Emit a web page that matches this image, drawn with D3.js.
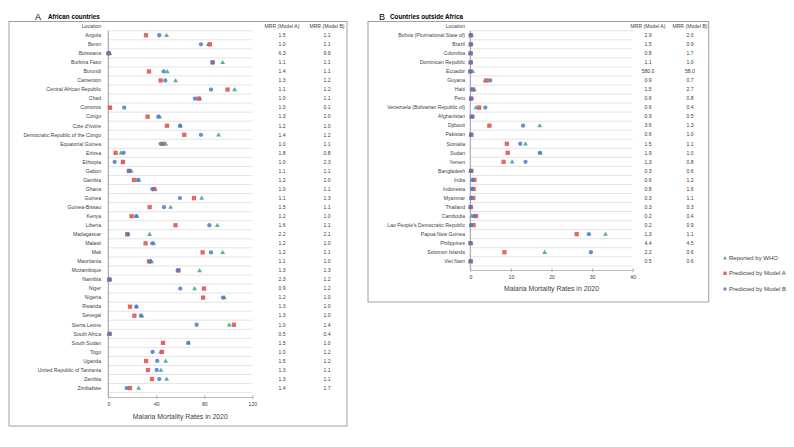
<!DOCTYPE html>
<html>
<head>
<meta charset="utf-8">
<script src="https://cdn.jsdelivr.net/npm/d3@7/dist/d3.min.js"></script>
<style>
  html, body { margin: 0; padding: 0; background: #fff; }
  svg { display: block; font-family: "Liberation Sans", Arial, sans-serif; }
</style>
</head>
<body>
<svg id="chart" width="794" height="447"></svg>
<script>
// ---------- Data: African countries ----------
const africaCountries = ["Angola","Benin","Botswana","Burkina Faso","Burundi","Cameroon","Central African Republic","Chad","Comoros","Congo","Cote d'Ivoire","Democratic Republic of the Congo","Equatorial Guinea","Eritrea","Ethiopia","Gabon","Gambia","Ghana","Guinea","Guinea-Bissau","Kenya","Liberia","Madagascar","Malawi","Mali","Mauritania","Mozambique","Namibia","Niger","Nigeria","Rwanda","Senegal","Sierra Leone","South Africa","South Sudan","Togo","Uganda","United Republic of Tanzania","Zambia","Zimbabwe"];
const africaWHO    = [48.6,83.3,1.3,95.3,49.2,56.1,105.3,76.4,1.4,42.8,60.3,91.9,47.8,10.6,12.2,19.2,25.6,39.2,77.8,51.9,23.6,90.8,34.4,37.8,95.3,36.1,76.1,1.5,71.9,96.7,23.6,28.1,100.8,0.5,66.7,43.6,47.8,43.9,48.6,25.3];
const africaModelA = [31.4,84.7,0.2,86.9,33.9,43.6,99.4,75.3,1.4,32.8,48.9,63.3,45.6,6.1,12.2,17.2,21.4,38.1,71.4,34.5,19.4,56.0,15.8,31.1,78.6,33.9,58.6,0.65,79.7,79.0,18.1,21.7,104.7,1.0,45.6,44.7,31.5,33.0,36.4,18.1];
const africaModelB = [42.5,77.2,0.13,86.9,46.1,47.5,85.6,72.2,13.3,41.7,59.7,77.2,43.6,12.8,5.3,17.3,24.8,36.7,59.7,46.4,23.3,84.2,16.4,36.6,85.6,35.0,57.8,1.25,60.0,95.6,23.3,27.2,73.6,1.25,66.7,36.9,40.8,40.3,42.5,15.3];
const africaMRRA   = ["1.5","1.0","6.3","1.1","1.4","1.3","1.1","1.0","1.0","1.3","1.2","1.4","1.0","1.8","1.0","1.1","1.2","1.0","1.1","1.5","1.2","1.6","2.2","1.2","1.2","1.1","1.3","2.3","0.9","1.2","1.3","1.3","1.0","0.5","1.5","1.0","1.5","1.3","1.3","1.4"];
const africaMRRB   = ["1.1","1.1","9.9","1.1","1.1","1.2","1.2","1.1","0.1","1.0","1.0","1.2","1.1","0.8","2.3","1.1","1.0","1.1","1.3","1.1","1.0","1.1","2.1","1.0","1.1","1.0","1.3","1.2","1.2","1.0","1.0","1.0","1.4","0.4","1.0","1.2","1.2","1.1","1.1","1.7"];
const africaTicks  = [0,40,80,120];

// ---------- Data: Countries outside Africa ----------
const otherCountries = ["Bolivia (Plurinational State of)","Brazil","Colombia","Dominican Republic","Ecuador","Guyana","Haiti","Peru","Venezuela (Bolivarian Republic of)","Afghanistan","Djibouti","Pakistan","Somalia","Sudan","Yemen","Bangladesh","India","Indonesia","Myanmar","Thailand","Cambodia","Lao People's Democratic Republic","Papua New Guinea","Philippines","Solomon Islands","Viet Nam"];
const otherWHO    = [0.29,0.15,0.08,0.11,0.58,3.6,1.0,0.15,1.4,0.3,17.1,0.15,13.6,17.3,10.3,0.08,0.6,0.64,0.22,0.03,0.33,0.16,33.3,0.2,18.3,0.05];
const otherModelA = [0.10,0.10,0.10,0.10,0.001,4.0,0.67,0.25,2.2,0.33,4.7,0.25,9.0,9.2,8.2,0.27,1.0,0.8,0.74,0.10,1.4,0.8,26.2,0.045,8.4,0.10];
const otherModelB = [0.145,0.17,0.047,0.11,0.01,4.9,0.37,0.19,3.7,0.6,13.0,0.15,12.3,17.1,13.6,0.13,0.5,0.4,0.2,0.10,0.9,0.18,29.2,0.044,29.7,0.083];
const otherMRRA   = ["2.9","1.5","0.8","1.1","580.0","0.9","1.5","0.6","0.6","0.9","3.6","0.6","1.5","1.9","1.3","0.3","0.6","0.8","0.3","0.3","0.2","0.2","1.3","4.4","2.2","0.5"];
const otherMRRB   = ["2.0","0.9","1.7","1.0","58.0","0.7","2.7","0.8","0.4","0.5","1.3","1.0","1.1","1.0","0.8","0.6","1.2","1.6","1.1","0.3","0.4","0.9","1.1","4.5","0.6","0.6"];
const otherTicks  = [0,10,20,30,40];

const seriesNames = ["Reported by WHO","Predicted by Model A","Predicted by Model B"];
const colors = { who: "#45A98F", a: "#E05656", b: "#4B79D0" };

const svg = d3.select("#chart");
const textColor = "#404040";
const fontSm = 5.1;

function marker(g, type, x, y, s) {
  if (type === "who") {
    g.append("path")
      .attr("d", d3.symbol(d3.symbolTriangle, s * s * 0.55)())
      .attr("transform", `translate(${x},${y})`)
      .attr("fill", colors.who).attr("fill-opacity", 0.9);
  } else if (type === "a") {
    g.append("rect").attr("x", x - s / 2).attr("y", y - s / 2)
      .attr("width", s).attr("height", s)
      .attr("fill", colors.a).attr("fill-opacity", 0.9);
  } else {
    g.append("circle").attr("cx", x).attr("cy", y).attr("r", s / 2)
      .attr("fill", colors.b).attr("fill-opacity", 0.85);
  }
}

function drawPanel(cfg) {
  const g = svg.append("g");
  // frame
  g.append("rect")
    .attr("x", cfg.frame[0]).attr("y", cfg.frame[1])
    .attr("width", cfg.frame[2] - cfg.frame[0]).attr("height", cfg.frame[3] - cfg.frame[1])
    .attr("fill", "none").attr("stroke", "#A0A0A0").attr("stroke-width", 1);

  // title
  g.append("text").attr("x", cfg.letterX).attr("y", 19.5)
    .attr("font-size", 9).attr("fill", "#000").text(cfg.letter);
  g.append("text").attr("x", cfg.titleX).attr("y", 19.3)
    .attr("font-size", 6.3).attr("font-weight", "bold").attr("fill", "#000").text(cfg.title);

  const cats = ["Location"].concat(cfg.countries);
  const y = d3.scaleBand().domain(cats).range(cfg.bandRange);
  const x = d3.scaleLinear().domain([cfg.ticks[0], cfg.ticks[cfg.ticks.length - 1]]).range(cfg.xRange);

  // gridlines at category boundaries
  const bounds = cfg.countries.map(c => y(c)).concat([y(cfg.countries[cfg.countries.length - 1]) + y.bandwidth()]);
  g.selectAll(".grid").data(bounds).enter().append("line")
    .attr("x1", cfg.xRange[0]).attr("x2", cfg.xRange[1])
    .attr("y1", d => d).attr("y2", d => d)
    .attr("stroke", "#D9D9D9").attr("stroke-width", 0.7);

  // vertical axis line at zero
  g.append("line").attr("x1", x(0)).attr("x2", x(0))
    .attr("y1", bounds[0]).attr("y2", cfg.axisY)
    .attr("stroke", "#808080").attr("stroke-width", 0.8);

  // x axis
  const axis = d3.axisBottom(x).tickValues(cfg.ticks).tickSize(3).tickSizeOuter(0).tickPadding(2.5);
  const ax = g.append("g").attr("transform", `translate(0,${cfg.axisY})`).call(axis);
  ax.select(".domain").attr("stroke", "#A6A6A6").attr("stroke-width", 0.8);
  ax.selectAll(".tick line").attr("stroke", "#A6A6A6").attr("stroke-width", 0.8).attr("y1", -2).attr("y2", 2);
  ax.selectAll(".tick text").attr("font-size", fontSm).attr("fill", textColor)
    .attr("font-family", "Liberation Sans, Arial, sans-serif");

  g.append("text").attr("x", (cfg.xRange[0] + cfg.xRange[1]) / 2).attr("y", cfg.axisTitleY)
    .attr("text-anchor", "middle").attr("font-size", 6.9).attr("fill", textColor)
    .text("Malaria Mortality Rates in 2020");

  // category labels
  g.selectAll(".lab").data(cats).enter().append("text")
    .attr("x", cfg.labelX).attr("y", d => y(d) + y.bandwidth() / 2)
    .attr("dy", "0.35em").attr("text-anchor", "end")
    .attr("font-size", fontSm).attr("fill", textColor).text(d => d);

  // MRR columns
  const colA = ["MRR (Model A)"].concat(cfg.mrrA);
  const colB = ["MRR (Model B)"].concat(cfg.mrrB);
  g.selectAll(".ca").data(cats).enter().append("text")
    .attr("x", cfg.colAX).attr("y", d => y(d) + y.bandwidth() / 2)
    .attr("dy", "0.35em").attr("text-anchor", "middle")
    .attr("font-size", fontSm).attr("fill", textColor).text((d, i) => colA[i]);
  g.selectAll(".cb").data(cats).enter().append("text")
    .attr("x", cfg.colBX).attr("y", d => y(d) + y.bandwidth() / 2)
    .attr("dy", "0.35em").attr("text-anchor", "middle")
    .attr("font-size", fontSm).attr("fill", textColor).text((d, i) => colB[i]);

  // markers: series order WHO, Model A, Model B
  const mg = g.append("g");
  const ms = 4.3;
  cfg.countries.forEach((c, i) => marker(mg, "who", x(cfg.who[i]), y(c) + y.bandwidth() / 2 + 0.3, ms));
  cfg.countries.forEach((c, i) => marker(mg, "a", x(cfg.a[i]), y(c) + y.bandwidth() / 2, ms));
  cfg.countries.forEach((c, i) => marker(mg, "b", x(cfg.b[i]), y(c) + y.bandwidth() / 2, ms));
}

drawPanel({
  letter: "A", title: "African countries", letterX: 35, titleX: 48,
  frame: [9, 21.5, 347, 426],
  countries: africaCountries, who: africaWHO, a: africaModelA, b: africaModelB,
  mrrA: africaMRRA, mrrB: africaMRRB, ticks: africaTicks,
  xRange: [108.3, 252.3], bandRange: [21.7, 392.6],
  axisY: 397, axisTitleY: 418.5, labelX: 101, colAX: 282, colBX: 327
});

drawPanel({
  letter: "B", title: "Countries outside Africa", letterX: 379, titleX: 390,
  frame: [368, 21.5, 708.7, 302],
  countries: otherCountries, who: otherWHO, a: otherModelA, b: otherModelB,
  mrrA: otherMRRA, mrrB: otherMRRB, ticks: otherTicks,
  xRange: [470.3, 632.7], bandRange: [21.7, 265.8],
  axisY: 270, axisTitleY: 291, labelX: 465, colAX: 648, colBX: 690
});

// legend
const leg = svg.append("g");
const legTypes = ["who", "a", "b"];
const legY = [258.3, 273.3, 289];
legTypes.forEach((t, i) => {
  marker(leg, t, 725, legY[i], 3.4);
  leg.append("text").attr("x", 729).attr("y", legY[i]).attr("dy", "0.35em")
    .attr("font-size", 6).attr("fill", textColor).text(seriesNames[i]);
});
</script>
</body>
</html>
